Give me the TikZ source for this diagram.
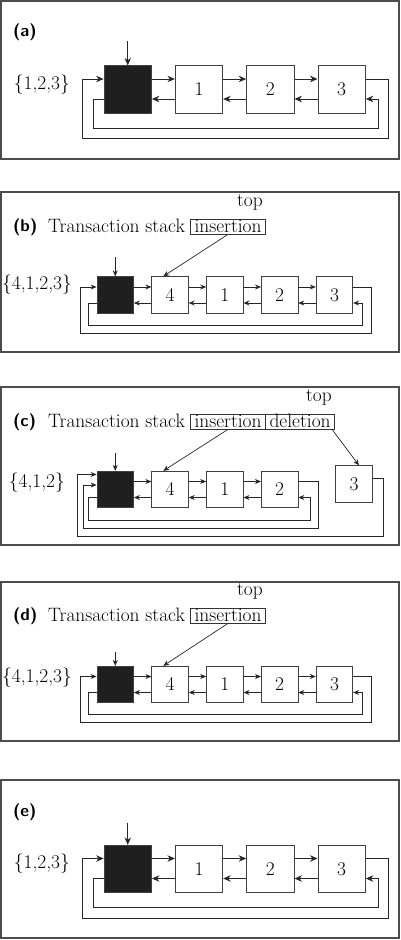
\documentclass[tikz,border=0pt]{standalone}
\usepackage{tikz}
\usetikzlibrary{
    arrows.meta,
    positioning
}

\begin{document}
\begin{tikzpicture}[x=1pt, y=-1pt,
    font=\fontsize{19.4}{22}\selectfont,
    node distance=17.5pt,
    cell/.style={
        rectangle,
        draw=black!75,
        fill=white,
        line width=0.8pt,
        inner sep=0pt,
        minimum size=36.5pt
    },
    bigcell/.style={cell, minimum size=47.5pt},
    headcell/.style={fill=black!88},
    panel/.style={draw=black!70, line width=1.1pt},
    tag/.style={font=\sffamily\bfseries\fontsize{17}{20}\selectfont, inner sep=0pt},
    plain/.style={inner sep=0pt},
    stackbox/.style={
        rectangle,
        draw=black!80,
        line width=0.7pt,
        inner xsep=4pt,
        inner ysep=1pt,
        text height=12pt,
        text depth=1pt
    },
    link/.style={-{Stealth[length=6pt,width=5pt]}, line width=0.7pt, black!85},
    biglink/.style={-{Stealth[length=7.5pt,width=6.5pt]}, line width=0.8pt, black!85}
]
\useasboundingbox (0,0) rectangle (400,940);

% ===== PANEL (a) =====
\draw[panel] (1,1) rectangle (399,159);
\node[tag, anchor=base west] (alab) at (13,36) {(a)};
\node[bigcell, headcell] (ahead) at (127.75,89.5) {};
\node[bigcell, right=23pt of ahead] (a1) {1};
\node[bigcell, right=23pt of a1] (a2) {2};
\node[bigcell, right=23pt of a2] (a3) {3};
\node[plain, anchor=east] (aset) at (70,85) {\{1,2,3\}};
\coordinate[above=24pt of ahead] (aptr);

\draw[biglink] (aptr) -- (ahead);
\draw[biglink] ([yshift=10.5pt]ahead.east) -- ([yshift=10.5pt]a1.west);
\draw[biglink] ([yshift=10.5pt]a1.east) -- ([yshift=10.5pt]a2.west);
\draw[biglink] ([yshift=10.5pt]a2.east) -- ([yshift=10.5pt]a3.west);
\draw[biglink] ([yshift=-9.5pt]a1.west) -- ([yshift=-9.5pt]ahead.east);
\draw[biglink] ([yshift=-9.5pt]a2.west) -- ([yshift=-9.5pt]a1.east);
\draw[biglink] ([yshift=-9.5pt]a3.west) -- ([yshift=-9.5pt]a2.east);
\draw[biglink] ([yshift=10.5pt]a3.east) -- ++(23,0) |- (82,138) |- ([yshift=10.5pt]ahead.west);
\draw[biglink] ([yshift=-9.5pt]ahead.west) -- ++(-10,0) |- (378,128) |- ([yshift=-9.5pt]a3.east);

% ===== PANEL (b) =====
\draw[panel] (1,192) rectangle (399,352);
\node[tag, anchor=base west] (blab) at (13,231) {(b)};
\node[plain, anchor=base west] (btxt) at (48,232) {Transaction stack};
\node[stackbox, base right=5pt of btxt] (bins) {insertion};
\node[plain, above left=8pt and 3pt of bins.north east] (btop) {top};
\node[cell, headcell] (bhead) at (115.25,295) {};
\node[cell, right=of bhead] (b4) {4};
\node[cell, right=of b4] (b1) {1};
\node[cell, right=of b1] (b2) {2};
\node[cell, right=of b2] (b3) {3};
\node[plain, anchor=east] (bset) at (72,285) {\{4,1,2,3\}};
\coordinate[above=19pt of bhead] (bptr);

\draw[link] (bptr) -- (bhead);
\draw[link] (bins.south) -- (b4.110);
\draw[link] ([yshift=8pt]bhead.east) -- ([yshift=8pt]b4.west);
\draw[link] ([yshift=8pt]b4.east) -- ([yshift=8pt]b1.west);
\draw[link] ([yshift=8pt]b1.east) -- ([yshift=8pt]b2.west);
\draw[link] ([yshift=8pt]b2.east) -- ([yshift=8pt]b3.west);
\draw[link] ([yshift=-8pt]b4.west) -- ([yshift=-8pt]bhead.east);
\draw[link] ([yshift=-8pt]b1.west) -- ([yshift=-8pt]b4.east);
\draw[link] ([yshift=-8pt]b2.west) -- ([yshift=-8pt]b1.east);
\draw[link] ([yshift=-8pt]b3.west) -- ([yshift=-8pt]b2.east);
\draw[link] ([yshift=8pt]b3.east) -- ++(18.5,0) |- (80,333) |- ([yshift=8pt]bhead.west);
\draw[link] ([yshift=-8pt]bhead.west) -- ++(-8,0) |- (362,325) |- ([yshift=-8pt]b3.east);

% ===== PANEL (c) =====
\draw[panel] (1,387) rectangle (399,545);
\node[tag, anchor=base west] (clab) at (13,426) {(c)};
\node[plain, anchor=base west] (ctxt) at (48,427) {Transaction stack};
\node[stackbox, base right=5pt of ctxt] (cins) {insertion};
\node[stackbox, base right=-0.7pt of cins] (cdel) {deletion};
\node[plain, above left=8pt and 3pt of cdel.north east] (ctop) {top};
\node[cell, headcell] (chead) at (115.25,489.5) {};
\node[cell, right=of chead] (c4) {4};
\node[cell, right=of c4] (c1) {1};
\node[cell, right=of c1] (c2) {2};
\node[cell] (c3) at (354,484) {3};
\node[plain, anchor=east] (cset) at (65,483) {\{4,1,2\}};
\coordinate[above=18pt of chead] (cptr);

\draw[link] (cptr) -- (chead);
\draw[link] (cins.south) -- (c4.110);
\draw[link] ([xshift=-3pt]cdel.south east) -- (c3.75);
\draw[link] ([yshift=8pt]chead.east) -- ([yshift=8pt]c4.west);
\draw[link] ([yshift=8pt]c4.east) -- ([yshift=8pt]c1.west);
\draw[link] ([yshift=8pt]c1.east) -- ([yshift=8pt]c2.west);
\draw[link] ([yshift=-8pt]c4.west) -- ([yshift=-8pt]chead.east);
\draw[link] ([yshift=-8pt]c1.west) -- ([yshift=-8pt]c4.east);
\draw[link] ([yshift=-8pt]c2.west) -- ([yshift=-8pt]c1.east);
\draw[link] ([yshift=8pt]c2.east) -- ++(20.5,0) |- (83,528) |- ([yshift=4.5pt]chead.west);
\draw[link] ([yshift=-8pt]chead.west) -- ++(-8,0) |- (310,520) |- ([yshift=-8pt]c2.east);
\draw[link] ([yshift=6pt]c3.east) -- ++(10.75,0) |- (77,536) |- ([yshift=15pt]chead.west);

% ===== PANEL (d) =====
\draw[panel] (1,582) rectangle (399,741);
\node[tag, anchor=base west] (dlab) at (13,620) {(d)};
\node[plain, anchor=base west] (dtxt) at (48,621) {Transaction stack};
\node[stackbox, base right=5pt of dtxt] (dins) {insertion};
\node[plain, above left=8pt and 3pt of dins.north east] (dtop) {top};
\node[cell, headcell] (dhead) at (115.25,684.5) {};
\node[cell, right=of dhead] (d4) {4};
\node[cell, right=of d4] (d1) {1};
\node[cell, right=of d1] (d2) {2};
\node[cell, right=of d2] (d3) {3};
\node[plain, anchor=east] (dset) at (72,678) {\{4,1,2,3\}};
\coordinate[above=14pt of dhead] (dptr);

\draw[link] (dptr) -- (dhead);
\draw[link] (dins.south) -- (d4.110);
\draw[link] ([yshift=8pt]dhead.east) -- ([yshift=8pt]d4.west);
\draw[link] ([yshift=8pt]d4.east) -- ([yshift=8pt]d1.west);
\draw[link] ([yshift=8pt]d1.east) -- ([yshift=8pt]d2.west);
\draw[link] ([yshift=8pt]d2.east) -- ([yshift=8pt]d3.west);
\draw[link] ([yshift=-8pt]d4.west) -- ([yshift=-8pt]dhead.east);
\draw[link] ([yshift=-8pt]d1.west) -- ([yshift=-8pt]d4.east);
\draw[link] ([yshift=-8pt]d2.west) -- ([yshift=-8pt]d1.east);
\draw[link] ([yshift=-8pt]d3.west) -- ([yshift=-8pt]d2.east);
\draw[link] ([yshift=8pt]d3.east) -- ++(18.5,0) |- (80,722) |- ([yshift=8pt]dhead.west);
\draw[link] ([yshift=-8pt]dhead.west) -- ++(-8,0) |- (362,714) |- ([yshift=-8pt]d3.east);

% ===== PANEL (e) =====
\draw[panel] (1,780) rectangle (399,938);
\node[tag, anchor=base west] (elab) at (13,816) {(e)};
\node[bigcell, headcell] (ehead) at (127.75,869) {};
\node[bigcell, right=23pt of ehead] (e1) {1};
\node[bigcell, right=23pt of e1] (e2) {2};
\node[bigcell, right=23pt of e2] (e3) {3};
\node[plain, anchor=east] (eset) at (70,864) {\{1,2,3\}};
\coordinate[above=22pt of ehead] (eptr);

\draw[biglink] (eptr) -- (ehead);
\draw[biglink] ([yshift=10.5pt]ehead.east) -- ([yshift=10.5pt]e1.west);
\draw[biglink] ([yshift=10.5pt]e1.east) -- ([yshift=10.5pt]e2.west);
\draw[biglink] ([yshift=10.5pt]e2.east) -- ([yshift=10.5pt]e3.west);
\draw[biglink] ([yshift=-9.5pt]e1.west) -- ([yshift=-9.5pt]ehead.east);
\draw[biglink] ([yshift=-9.5pt]e2.west) -- ([yshift=-9.5pt]e1.east);
\draw[biglink] ([yshift=-9.5pt]e3.west) -- ([yshift=-9.5pt]e2.east);
\draw[biglink] ([yshift=10.5pt]e3.east) -- ++(23,0) |- (82,918) |- ([yshift=10.5pt]ehead.west);
\draw[biglink] ([yshift=-9.5pt]ehead.west) -- ++(-10,0) |- (378,907) |- ([yshift=-9.5pt]e3.east);

\end{tikzpicture}
\end{document}
